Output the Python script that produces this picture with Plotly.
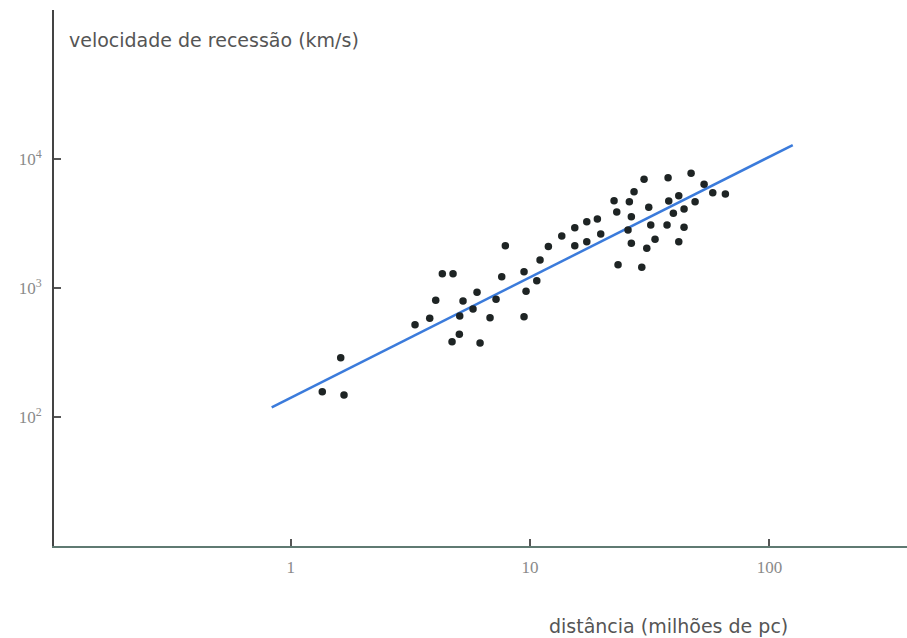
import plotly.graph_objects as go

# distance (millions of pc) and recession velocity (km/s)
dist = [1.355, 1.670, 1.618, 3.307, 3.810, 4.036, 4.300, 4.767, 4.722, 5.065,
        5.084, 5.248, 5.778, 6.004, 6.182, 6.805, 7.210, 7.616, 7.884, 9.438,
        9.623, 9.438, 10.67, 11.01, 11.93, 13.57, 15.38, 15.38, 17.26, 17.26,
        19.11, 19.74, 22.44, 23.03, 23.32, 26.00, 27.20, 26.50, 25.67, 26.50,
        29.30, 29.95, 30.74, 31.33, 31.94, 33.29, 37.73, 37.98, 37.36, 39.70,
        41.82, 41.82, 44.00, 44.00, 47.08, 48.93, 53.36, 58.00, 65.48]
vel = [158, 149, 289, 521, 584, 805, 1294, 1294, 385, 439,
       609, 795, 690, 929, 376, 590, 820, 1226, 2132, 1341,
       945, 601, 1142, 1652, 2101, 2534, 2938, 2132, 3269, 2289,
       3430, 2626, 4754, 3888, 1519, 4670, 5582, 3574, 2820, 2225,
       1450, 6964, 2035, 4227, 3083, 2389, 7164, 4729, 3083, 3799,
       5196, 2289, 4101, 2959, 7750, 4670, 6370, 5483, 5358]

# fitted line endpoints
fit_x = [0.833, 125.2]
fit_y = [119.5, 12838]

x_ticks = [1, 10, 100]
x_ticktext = ["1", "10", "100"]
y_ticks = [100, 1000, 10000]
y_ticktext = ["10<sup>2</sup>", "10<sup>3</sup>", "10<sup>4</sup>"]

fig = go.Figure()
fig.add_trace(go.Scatter(x=fit_x, y=fit_y, mode="lines",
                         line=dict(color="#3b7bdb", width=2.5),
                         hoverinfo="skip", showlegend=False))
fig.add_trace(go.Scatter(x=dist, y=vel, mode="markers",
                         marker=dict(color="#1e2424", size=7.5),
                         showlegend=False))

tickfont = dict(family="Liberation Serif, serif", size=17, color="#8a8a8a")
titlefont = dict(family="DejaVu Sans, sans-serif", size=19, color="#555")

fig.update_layout(
    width=907, height=638,
    margin=dict(l=54, r=0, t=10, b=92),
    paper_bgcolor="white", plot_bgcolor="white",
    xaxis=dict(type="log", range=[-0.989, 2.575],
               tickvals=x_ticks, ticktext=x_ticktext,
               ticks="inside", ticklen=7, tickwidth=1.5, tickcolor="#555",
               showline=True, linecolor="#5f7a72", linewidth=2,
               showgrid=False, zeroline=False, tickfont=tickfont,
               ticklabelstandoff=5),
    yaxis=dict(type="log", range=[1.0035, 5.154],
               tickvals=y_ticks, ticktext=y_ticktext,
               ticks="inside", ticklen=7, tickwidth=1.5, tickcolor="#555",
               showline=True, linecolor="#444", linewidth=2,
               showgrid=False, zeroline=False, tickfont=tickfont,
               ticklabelstandoff=7),
    annotations=[
        dict(text="velocidade de recessão (km/s)", xref="paper", yref="paper",
             x=(67 - 54) / 853, y=(546 - 40) / 536, xanchor="left", yanchor="middle",
             showarrow=False, font=titlefont),
        dict(text="distância (milhões de pc)", xref="paper", yref="paper",
             x=(790 - 54) / 853, y=(546 - 626) / 536, xanchor="right", yanchor="middle",
             showarrow=False, font=titlefont),
    ],
)

fig.write_html(
    "out.html",
    config={"displayModeBar": False},
    post_script="document.body.style.margin='0';document.body.style.overflow='hidden';",
)
